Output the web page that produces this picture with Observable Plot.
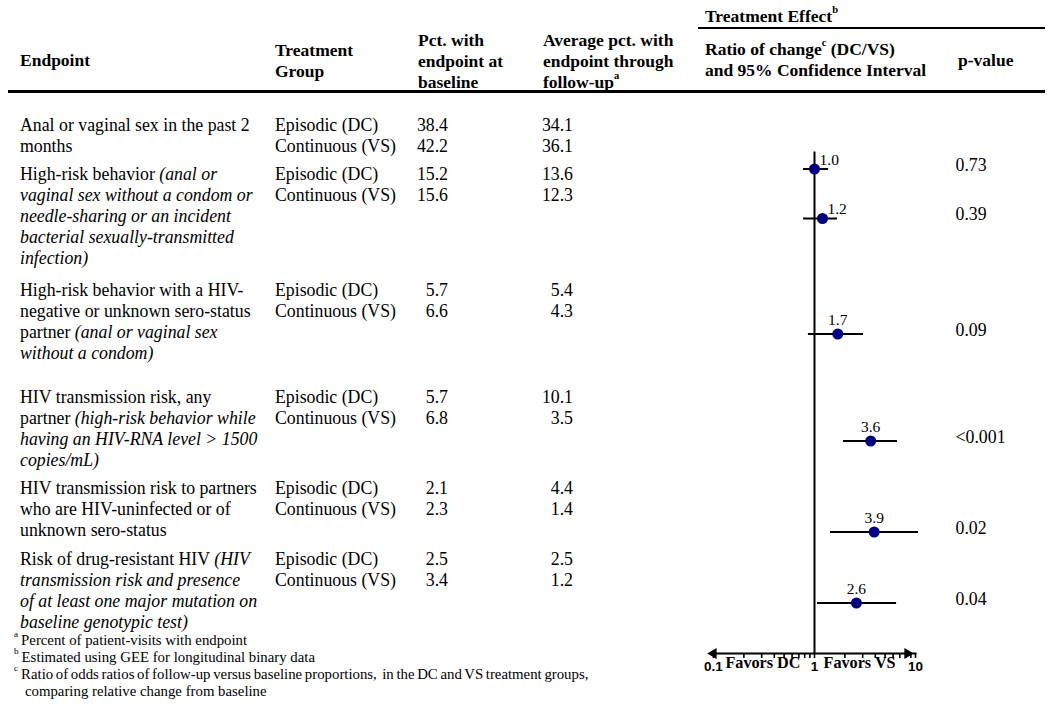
<!DOCTYPE html>
<html>
<head>
<meta charset="utf-8">
<script src="https://cdn.jsdelivr.net/npm/d3@7"></script>
<script src="https://cdn.jsdelivr.net/npm/@observablehq/plot@0.6"></script>
<style>
html,body{margin:0;padding:0;background:#fff;}
#fig{position:relative;width:1050px;height:707px;overflow:hidden;background:#fff;
  font-family:"Liberation Serif","Times New Roman",serif;color:#000;}
.hdr{position:absolute;font-weight:bold;font-size:17.5px;line-height:21px;white-space:nowrap;}
.rule{position:absolute;background:#000;}
#rows{position:absolute;left:0;top:114.5px;width:1050px;}
.row{position:relative;font-size:17.8px;line-height:21px;white-space:nowrap;}
.row .ep{position:absolute;left:20px;top:0;}
.row .grp{position:absolute;left:275px;top:0;}
.row .b{position:absolute;left:380px;width:68px;text-align:right;top:0;}
.row .f{position:absolute;left:505px;width:68px;text-align:right;top:0;}
sup{font-size:60%;line-height:0;position:relative;top:-0.2em;vertical-align:super;}
#notes{position:absolute;left:14px;top:631.5px;font-size:14.8px;line-height:17px;white-space:nowrap;}
#notes sup{font-size:62%;margin-right:3px;}
#notes .tight{word-spacing:-1px;}
#fig svg{position:absolute;left:0;top:0;pointer-events:none;}
</style>
</head>
<body>
<div id="fig"></div>
<script>
// ---------- data ----------
const endpointLines = [
  ["Anal or vaginal sex in the past 2", "months"],
  ["High-risk behavior <i>(anal or</i>", "<i>vaginal sex without a condom or</i>", "<i>needle-sharing or an incident</i>", "<i>bacterial sexually-transmitted</i>", "<i>infection)</i>"],
  ["High-risk behavior with a HIV-", "negative or unknown sero-status", "partner <i>(anal or vaginal sex</i>", "<i>without a condom)</i>"],
  ["HIV transmission risk, any", "partner <i>(high-risk behavior while</i>", "<i>having an HIV-RNA level &gt; 1500</i>", "<i>copies/mL)</i>"],
  ["HIV transmission risk to partners", "who are HIV-uninfected or of", "unknown sero-status"],
  ["Risk of drug-resistant HIV <i>(HIV</i>", "<i>transmission risk and presence</i>", "<i>of at least one major mutation on</i>", "<i>baseline genotypic test)</i>"]
];
const groups = ["Episodic (DC)", "Continuous (VS)"];
const baselineDC = [38.4, 15.2, 5.7, 5.7, 2.1, 2.5];
const baselineVS = [42.2, 15.6, 6.6, 6.8, 2.3, 3.4];
const followDC   = [34.1, 13.6, 5.4, 10.1, 4.4, 2.5];
const followVS   = [36.1, 12.3, 4.3, 3.5, 1.4, 1.2];
const ratio      = [1.0, 1.2, 1.7, 3.6, 3.9, 2.6];
const ciLow      = [0.78, 0.78, 0.87, 1.94, 1.44, 1.07];
const ciHigh     = [1.38, 1.69, 3.06, 6.63, 10.7, 6.5];
const pValues    = ["0.73", "0.39", "0.09", "<0.001", "0.02", "0.04"];
const axisTicks  = [0.1,0.2,0.3,0.4,0.5,0.6,0.7,0.8,0.9,1,2,3,4,5,6,7,8,9,10];
const axisLabels = [0.1, 1, 10];
const favorLabels = ["Favors DC", "Favors VS"];
const headerTop = "Treatment Effect<sup>b</sup>";
const columnHeaders = [
  "Endpoint",
  "Treatment<br>Group",
  "Pct. with<br>endpoint at<br>baseline",
  "Average pct. with<br>endpoint through<br>follow-up<sup>a</sup>",
  "Ratio of change<sup>c</sup> (DC/VS)<br>and 95% Confidence Interval",
  "p-value"
];
const footnotes = [
  "<sup>a</sup>Percent of patient-visits with endpoint",
  "<sup>b</sup>Estimated using GEE for longitudinal binary data",
  "<span class=\"tight\"><sup>c</sup>Ratio of odds ratios of follow-up versus baseline proportions,&nbsp; in the DC and VS treatment groups,</span>",
  "<span style=\"padding-left:11px\">comparing relative change from baseline</span>"
];

// ---------- layout ----------
const fig = document.getElementById("fig");
const hdrPos = [[20, 49.5], [275, 39.5], [418, 29.5], [543, 29.5], [705, 39], [958, 49.5]];
function addDiv(cls, html, left, top) {
  const d = document.createElement("div");
  d.className = cls; d.innerHTML = html;
  d.style.left = left + "px"; d.style.top = top + "px";
  fig.appendChild(d); return d;
}
addDiv("hdr", headerTop, 705, 6);
columnHeaders.forEach((h, i) => addDiv("hdr", h, hdrPos[i][0], hdrPos[i][1]));
const r1 = addDiv("rule", "", 698, 27); r1.style.width = "347px"; r1.style.height = "2px";
const r2 = addDiv("rule", "", 8, 89.5); r2.style.width = "1037px"; r2.style.height = "3px";

const rowGaps = [0, 7.5, 10.5, 23, 7, 8];
const rowsDiv = document.createElement("div"); rowsDiv.id = "rows"; fig.appendChild(rowsDiv);
const rowEls = endpointLines.map((lines, i) => {
  const r = document.createElement("div");
  r.className = "row";
  r.style.marginTop = rowGaps[i] + "px";
  r.style.height = (Math.max(lines.length, 2) * 21) + "px";
  r.innerHTML =
    `<div class="ep">${lines.join("<br>")}</div>` +
    `<div class="grp">${groups.join("<br>")}</div>` +
    `<div class="b">${baselineDC[i].toFixed(1)}<br>${baselineVS[i].toFixed(1)}</div>` +
    `<div class="f">${followDC[i].toFixed(1)}<br>${followVS[i].toFixed(1)}</div>`;
  rowsDiv.appendChild(r);
  return r;
});
const notes = document.createElement("div"); notes.id = "notes";
notes.innerHTML = footnotes.map(f => `<div>${f}</div>`).join("");
fig.appendChild(notes);

// measured row positions -> vertical positions of the forest rows
const figTop = fig.getBoundingClientRect().top;
const rowY = rowEls.map(el => el.getBoundingClientRect().top - figTop + 54);

const H = 707, marginBottom = 54, axisY = H - marginBottom;
const data = ratio.map((r, i) => ({ratio: r, lo: ciLow[i], hi: ciHigh[i], p: pValues[i], y: rowY[i]}));
const fmt = d3.format(".1f");

const svg = Plot.plot({
  width: 1050, height: H,
  marginLeft: 713, marginRight: 135, marginTop: 0, marginBottom,
  style: {background: "transparent", fontFamily: "Liberation Serif, Times New Roman, serif", fontSize: "15px", color: "black"},
  x: {type: "log", domain: [0.1, 10], axis: null},
  y: {type: "identity", axis: null},
  marks: [
    Plot.ruleX([1], {y1: rowY[0] - 17, y2: axisY, stroke: "black", strokeWidth: 2}),
    Plot.ruleY(data, {y: "y", x1: "lo", x2: "hi", stroke: "black", strokeWidth: 2}),
    Plot.dot(data, {x: "ratio", y: "y", r: 5.5, fill: "#000080"}),
    Plot.text(data.filter(d => d.ratio >= 1.5), {x: "ratio", y: "y", text: d => fmt(d.ratio), dy: -14, fontSize: 15.5}),
    Plot.text(data.filter(d => d.ratio < 1.5), {x: "ratio", y: "y", text: d => fmt(d.ratio), dy: -9, dx: 5, textAnchor: "start", fontSize: 15.5}),
    Plot.text(data, {y: "y", text: "p", frameAnchor: "right", dx: 40, dy: -4, textAnchor: "start", fontSize: 17.8}),
    Plot.frame({anchor: "bottom", stroke: "black", strokeWidth: 2}),
    Plot.axisX({ticks: axisTicks, tickSize: 5, tickPadding: 3, label: null,
      tickFormat: d => axisLabels.includes(d) ? String(d) : "",
      fontFamily: "Liberation Sans, Arial, sans-serif", fontWeight: "bold", fontSize: 13.5, strokeWidth: 1.6}),
    Plot.dot([axisTicks[0]], {x: d => d, frameAnchor: "bottom", symbol: "triangle", rotate: -90, r: 4, fill: "black", stroke: "none"}),
    Plot.dot([axisTicks[axisTicks.length - 1]], {x: d => d, frameAnchor: "bottom", symbol: "triangle", rotate: 90, r: 4, fill: "black", stroke: "none", dx: -8}),
    Plot.text([favorLabels[0]], {x: 1, frameAnchor: "bottom", lineAnchor: "middle", textAnchor: "end", dx: -14, dy: 9, fontWeight: "bold", fontSize: 16.2}),
    Plot.text([favorLabels[1]], {x: 1, frameAnchor: "bottom", lineAnchor: "middle", textAnchor: "start", dx: 9, dy: 9, fontWeight: "bold", fontSize: 16.2})
  ]
});
fig.appendChild(svg);
</script>
</body>
</html>
